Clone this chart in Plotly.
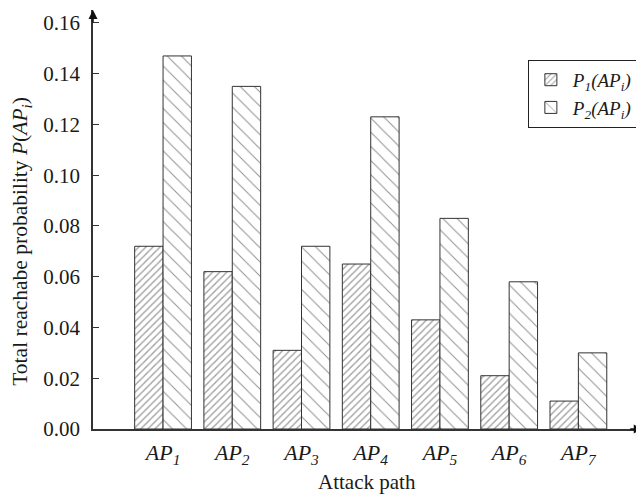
import plotly.graph_objects as go

categories = ["AP<sub>1</sub>", "AP<sub>2</sub>", "AP<sub>3</sub>", "AP<sub>4</sub>",
              "AP<sub>5</sub>", "AP<sub>6</sub>", "AP<sub>7</sub>"]
positions = [1, 2, 3, 4, 5, 6, 7]
p1_values = [0.072, 0.062, 0.031, 0.065, 0.043, 0.021, 0.011]
p2_values = [0.147, 0.135, 0.072, 0.123, 0.083, 0.058, 0.030]
y_ticks = [0.00, 0.02, 0.04, 0.06, 0.08, 0.10, 0.12, 0.14, 0.16]

FONT = "Liberation Serif"
TXT = "#1a1a1a"

fig = go.Figure()
fig.add_trace(go.Bar(
    x=positions, y=p1_values, name="<i>P<sub>1</sub>(AP<sub>i</sub>)</i>", legendgroup="a",
    marker=dict(color="white", line=dict(color="#333", width=1),
                pattern=dict(shape="/", size=5, solidity=0.28, fgcolor="#444", bgcolor="white")),
))
fig.add_trace(go.Bar(
    x=positions, y=p2_values, name="<i>P<sub>2</sub>(AP<sub>i</sub>)</i>", legendgroup="b",
    marker=dict(color="white", line=dict(color="#333", width=1),
                pattern=dict(shape="\\", size=10, solidity=0.1, fgcolor="#222", bgcolor="white")),
))

# page body has an 8px margin, so the figure is sized/offset to compensate
fig.update_layout(
    width=636, height=490,
    margin=dict(l=85, r=4, t=2, b=69, autoexpand=False),
    plot_bgcolor="white", paper_bgcolor="white",
    barmode="group", bargap=0.18, bargroupgap=0,
    font=dict(family=FONT, color=TXT),
    legend=dict(x=0.795, y=0.881, xanchor="left", yanchor="top",
                bordercolor="#222", borderwidth=1, bgcolor="white",
                font=dict(family=FONT, size=19, color=TXT),
                tracegroupgap=0, itemwidth=34),
    showlegend=True,
)
fig.update_xaxes(
    range=[-0.012, 7.89], tickmode="array", tickvals=positions,
    ticktext=["<i>" + c + "</i>" for c in categories],
    tickfont=dict(family=FONT, size=22, color=TXT),
    showline=True, linecolor="#333", linewidth=1.5, ticks="", showgrid=False, zeroline=False,
    automargin=False, ticklabelstandoff=3,
)
fig.update_yaxes(
    range=[0, 0.1651], tickmode="array", tickvals=y_ticks,
    ticktext=[f"{v:.2f}" for v in y_ticks],
    tickfont=dict(family=FONT, size=21, color=TXT),
    showline=True, linecolor="#333", linewidth=1.5, ticks="inside", ticklen=6, tickcolor="#333",
    showgrid=False, zeroline=False, ticklabelstandoff=7, automargin=False,
)

# axis titles
fig.add_annotation(text="Attack path", x=0.5, y=-0.1265, xref="paper", yref="paper",
                   xanchor="center", yanchor="middle", showarrow=False,
                   font=dict(family=FONT, size=21, color=TXT))
fig.add_annotation(text="Total reachabe probability <i>P</i>(<i>AP<sub>i</sub></i>)",
                   x=-0.13, y=0.449, xref="paper", yref="paper", textangle=-90,
                   xanchor="center", yanchor="middle", showarrow=False,
                   font=dict(family=FONT, size=21.5, color=TXT))

# axis arrowheads
fig.add_annotation(x=0, y=1, xref="paper", yref="paper", showarrow=True, ax=0, ay=14,
                   arrowhead=2, arrowsize=1.2, arrowwidth=1.5, arrowcolor="#111", text="")
fig.add_annotation(x=1.005, y=0, xref="paper", yref="paper", showarrow=True, ax=-14, ay=0,
                   arrowhead=2, arrowsize=1.2, arrowwidth=1.5, arrowcolor="#111", text="")

fig.write_html("out.html")
